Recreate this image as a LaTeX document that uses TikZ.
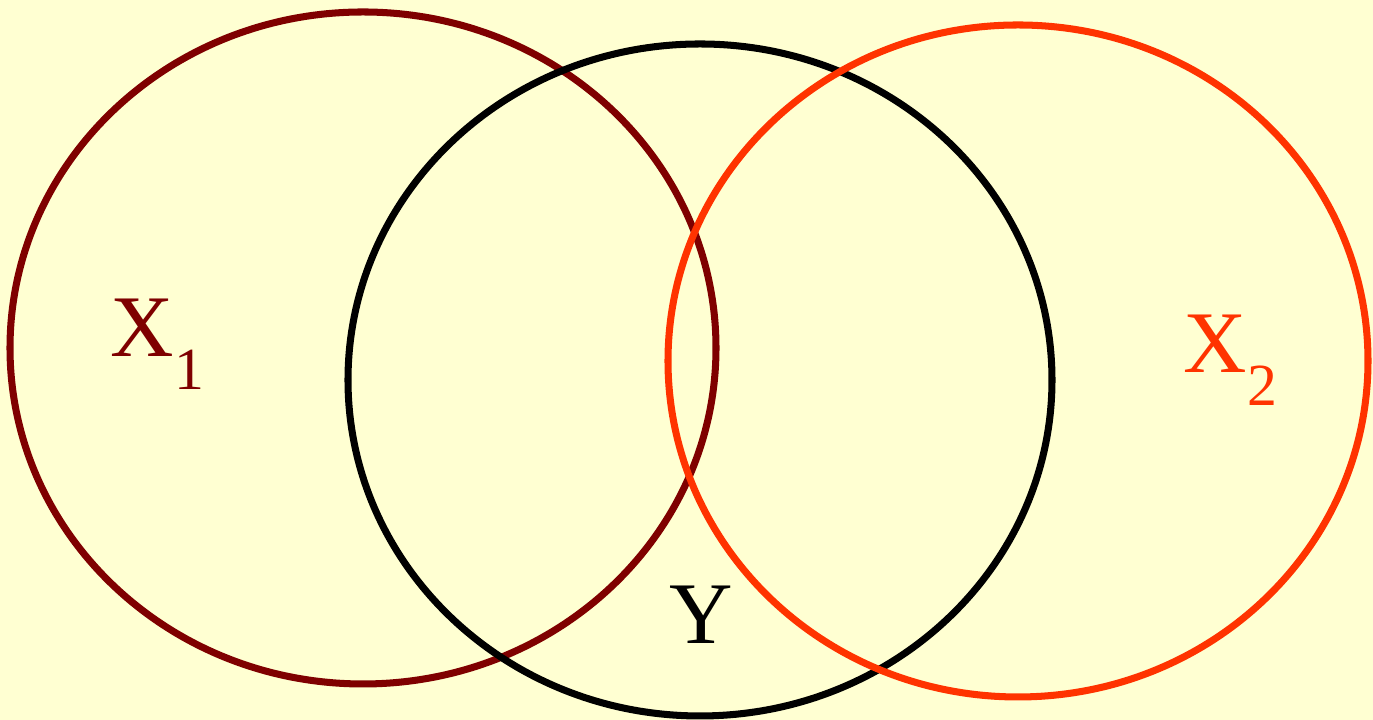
\documentclass[tikz,border=0pt]{standalone}
\usepackage{fontspec}
\setmainfont{Liberation Serif}
\definecolor{bgyellow}{HTML}{FFFFD2}
\definecolor{xonered}{HTML}{7F0000}
\definecolor{xtwored}{HTML}{FF3300}
\begin{document}
\begin{tikzpicture}[
    set/.style={line width=2pt},
    lbl/.style={font=\fontsize{25}{25}\selectfont, inner sep=0pt},
  ]
    % === background ===
    \fill[bgyellow] (0,0) rectangle (13.73,7.2);
    \useasboundingbox (0,0) rectangle (13.73,7.2);

    % === sets ===
    \draw[set, xonered] (3.63, 3.72) ellipse [x radius=3.53, y radius=3.36];
    \draw[set, black] (7.00, 3.40) ellipse [x radius=3.52, y radius=3.36];
    \draw[set, xtwored] (10.18, 3.59) ellipse [x radius=3.50, y radius=3.36];

    % === labels ===
    \node[lbl, text=xonered, anchor=base west] (xone) at (1.10, 3.63)
      {X\raisebox{-0.33cm}{\fontsize{17}{17}\selectfont 1}};
    \node[lbl, text=xtwored, anchor=base west] (xtwo) at (11.83, 3.47)
      {X\raisebox{-0.33cm}{\fontsize{17}{17}\selectfont 2}};
    \node[lbl, anchor=base] (why) at (7.015, 0.76) {Y};
  \end{tikzpicture}
\end{document}
